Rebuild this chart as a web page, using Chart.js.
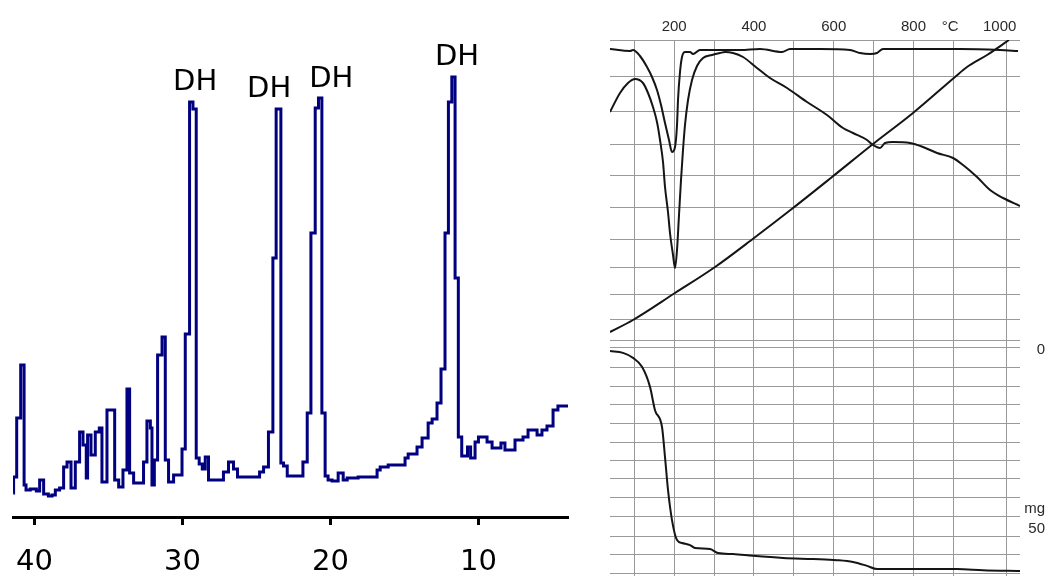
<!DOCTYPE html>
<html>
<head>
<meta charset="utf-8">
<title>XRD pattern and thermal analysis</title>
<script src="https://cdn.jsdelivr.net/npm/chart.js@4.4.1/dist/chart.umd.min.js"></script>
<style>
  html, body { margin: 0; padding: 0; background: #fff; overflow: hidden; }
  #xrdBox { position: absolute; left: 0; top: 0; width: 580px; height: 576px; }
  #tgaBox { position: absolute; left: 600px; top: 0; width: 450px; height: 576px; }
</style>
</head>
<body>
<div id="xrdBox"><canvas id="xrdChart"></canvas></div>
<div id="tgaBox"><canvas id="tgaChart"></canvas></div>
<script>
// XRD pattern (2 theta, degrees / intensity, a.u.), read as steps
const xrdTwoTheta = [41.44, 41.41, 41.20, 40.93, 40.70, 40.57, 40.28, 39.87, 39.65, 39.38,
  39.06, 38.81, 38.59, 38.30, 38.03, 37.80, 37.53, 37.24, 36.95, 36.72,
  36.50, 36.41, 36.18, 35.89, 35.62, 35.44, 35.10, 34.58, 34.31, 34.02,
  33.75, 33.57, 33.30, 32.63, 32.40, 32.17, 32.06, 31.90, 31.68, 31.38,
  31.16, 30.94, 30.60, 30.03, 29.81, 29.52, 29.29, 29.07, 28.87, 28.66,
  28.46, 28.24, 27.23, 26.89, 26.55, 26.28, 24.79, 24.52, 24.19, 23.89,
  23.67, 23.35, 23.17, 22.92, 21.86, 21.57, 21.32, 21.03, 20.81, 20.58,
  20.36, 20.16, 19.89, 19.48, 19.14, 18.87, 18.13, 16.85, 16.64, 16.10,
  14.96, 14.75, 14.15, 13.81, 13.40, 13.13, 12.80, 12.53, 12.26, 12.03,
  11.80, 11.58, 11.36, 11.13, 10.74, 10.53, 10.23, 10.00, 9.42, 9.08,
  8.48, 8.21, 7.53, 6.99, 6.65, 6.04, 5.71, 5.37, 4.96, 4.63, 3.95];
const xrdIntensity = [24, 40, 99, 152, 32, 27, 28, 26, 37, 23,
  21, 22, 27, 29, 50, 55, 29, 55, 85, 72,
  39, 82, 62, 85, 89, 35, 107, 37, 30, 47,
  128, 44, 34, 55, 96, 89, 32, 57, 162, 180,
  57, 35, 42, 68, 183, 415, 408, 59, 53, 48,
  60, 37, 45, 55, 48, 40, 45, 50, 85, 259,
  408, 54, 51, 41, 55, 104, 284, 409, 419, 104,
  41, 37, 36, 44, 37, 39, 40, 47, 50, 52,
  59, 63, 70, 79, 94, 98, 114, 148, 284, 415,
  440, 239, 80, 61, 70, 59, 75, 80, 75, 69,
  74, 67, 77, 80, 87, 82, 87, 91, 107, 111, 111];
const xrdTicks = [10, 20, 30, 40];

// "DH" peak labels
const dhTwoTheta = [29.14, 24.14, 19.95, 11.45];
const dhIntensity = [435, 428, 438, 460];

// thermal analysis: temperature (°C) and chart deflection
const tempGridT = [100, 200, 300, 400, 500, 600, 700, 800, 900, 1032];
const tempLabelT = [200, 400, 600, 800, 892, 1016];
const tempLabelText = ["200", "400", "600", "800", "°C", "1000"];
const topGridV = [303, 268, 233, 200, 168, 136, 105, 77, 50, 25, 4];
const tgGridMg = [-0.6, 5.0, 10.1, 15.1, 20.4, 25.7, 31.0, 36.0, 41.3, 46.6, 52.0, 57.0, 62.3];
const tgLabelMg = [0, 44.3, 50];
const tgLabelText = ["0", "mg", "50"];

const dtgT = [39.2, 89.4, 96.9, 114.4, 132.0, 144.5, 157.0, 167.1, 177.1, 187.1,
  194.6, 202.2, 207.2, 209.7, 214.7, 219.7, 227.2, 239.8, 247.3, 264.8,
  315.0, 365.1, 415.3, 470.4, 490.5, 565.7, 640.9, 666.0, 691.0, 708.6,
  723.6, 816.4, 916.7, 1016.9, 1062.1];
const dtgV = [295, 293, 294, 288, 277, 267, 254, 239, 221, 204,
  192, 197, 219, 244, 272, 287, 292, 292, 290, 294,
  294, 294, 295, 292, 295, 295, 294, 291, 290, 291,
  295, 295, 295, 294, 293];

const dtaT = [39.2, 64.3, 84.3, 101.9, 121.9, 134.5, 147.0, 157.0, 164.6, 172.1,
  177.1, 184.6, 189.6, 197.2, 202.2, 207.2, 212.2, 217.2, 222.2, 227.2,
  234.8, 244.8, 257.3, 272.4, 294.9, 315.0, 327.5, 347.6, 372.6, 407.7,
  440.3, 483.0, 533.1, 583.2, 623.3, 648.4, 683.5, 698.6, 716.1, 728.6,
  748.7, 791.3, 823.9, 859.0, 899.1, 924.2, 959.3, 991.9, 1024.5, 1067];
const dtaV = [232, 251, 261, 265, 261, 251, 237, 222, 204, 182,
  157, 132, 111, 89, 76, 94, 129, 164, 194, 219,
  244, 264, 278, 286, 289, 291, 292, 291, 287, 276,
  266, 256, 242, 229, 216, 211, 204, 199, 196, 201,
  202, 201, 197, 191, 186, 179, 167, 154, 146, 138];

const tCurveT = [39.2, 96.9, 202.2, 302.5, 400.2, 498.0, 595.8, 698.6, 798.8, 904.1, 934.2, 984.4, 1039.5];
const tCurveV = [12, 24, 51, 77, 106, 136, 167, 200, 231, 267, 277, 289, 304];

const tgT = [39.2, 71.8, 96.9, 119.4, 139.5, 152.0, 169.6, 177.1, 184.6, 194.6,
  207.2, 219.7, 239.8, 252.3, 289.9, 310.0, 347.6, 397.7, 472.9, 548.1,
  608.3, 648.4, 683.5, 708.6, 766.2, 849.0, 909.1, 974.3, 1067];
const tgMg = [0.3, 0.8, 2.2, 4.7, 10.3, 16.8, 21.5, 29.9, 39.1, 47.5,
  53.1, 53.9, 54.5, 55.3, 55.6, 56.7, 57.0, 57.5, 58.1, 58.4,
  58.7, 59.2, 60.3, 61.2, 61.2, 61.2, 61.2, 61.5, 61.7];

function toPoints(xs, ys) {
    return xs.map((x, i) => ({x: x, y: ys[i]}));
}

function labelFor(values, texts, v) {
    const i = values.findIndex(t => Math.abs(t - v) < 0.001);
    return i < 0 ? "" : texts[i];
}

// keep the axes from pushing the plot area in for their edge labels
function noPadding(axis) {
    axis.paddingTop = 0;
    axis.paddingBottom = 0;
    axis.paddingLeft = 0;
    axis.paddingRight = 0;
}

Chart.defaults.font.family = "'Liberation Sans', Arial, sans-serif";
Chart.defaults.animation = false;

// labels above the gypsum peaks
const dhPlugin = {
    id: "dhLabels",
    afterDatasetsDraw(chart) {
        const ctx = chart.ctx;
        ctx.save();
        ctx.font = "29px 'DejaVu Sans'";
        ctx.fillStyle = "#000";
        ctx.textAlign = "center";
        ctx.textBaseline = "middle";
        dhTwoTheta.forEach((t, i) => {
            ctx.fillText("DH", chart.scales.x.getPixelForValue(t), chart.scales.y.getPixelForValue(dhIntensity[i]));
        });
        ctx.restore();
    }
};

new Chart(document.getElementById("xrdChart"), {
    type: "line",
    data: {
        datasets: [{
            data: toPoints(xrdTwoTheta, xrdIntensity),
            borderColor: "#000080",
            borderWidth: 3,
            pointRadius: 0,
            stepped: true,
            fill: false
        }]
    },
    options: {
        responsive: true,
        maintainAspectRatio: false,
        events: [],
        layout: {padding: {left: 13, right: 12, top: 0, bottom: 0}},
        plugins: {legend: {display: false}, tooltip: {enabled: false}},
        scales: {
            x: {
                type: "linear",
                reverse: true,
                min: 3.95,
                max: 41.45,
                afterBuildTicks: axis => { axis.ticks = xrdTicks.map(v => ({value: v})); },
                afterFit: axis => { axis.height = 59; noPadding(axis); },
                border: {display: true, color: "#000", width: 3},
                grid: {display: true, drawOnChartArea: false, drawTicks: true, tickLength: 8, tickWidth: 3, tickColor: "#000"},
                ticks: {
                    font: {family: "'DejaVu Sans'", size: 29},
                    color: "#000",
                    padding: 20,
                    autoSkip: false,
                    maxRotation: 0
                }
            },
            y: {display: false, min: 0, max: 517}
        }
    },
    plugins: [dhPlugin]
});

const paperGrid = "#9a9a9a";
const curveStyle = {borderColor: "#151515", borderWidth: 2, pointRadius: 0, fill: false, cubicInterpolationMode: "monotone"};

new Chart(document.getElementById("tgaChart"), {
    type: "line",
    data: {
        datasets: [
            Object.assign({label: "DTG", data: toPoints(dtgT, dtgV), yAxisID: "yTop"}, curveStyle),
            Object.assign({label: "DTA", data: toPoints(dtaT, dtaV), yAxisID: "yTop"}, curveStyle),
            Object.assign({label: "T", data: toPoints(tCurveT, tCurveV), yAxisID: "yTop"}, curveStyle),
            Object.assign({label: "TG", data: toPoints(tgT, tgMg), yAxisID: "yTG"}, curveStyle)
        ]
    },
    options: {
        responsive: true,
        maintainAspectRatio: false,
        events: [],
        layout: {padding: {left: 10, right: 5, top: 0, bottom: 0}},
        plugins: {legend: {display: false}, tooltip: {enabled: false}},
        scales: {
            x: {
                type: "linear",
                position: "top",
                min: 39.2,
                max: 1067,
                afterBuildTicks: axis => {
                    axis.ticks = tempGridT.concat(tempLabelT.filter(v => !tempGridT.includes(v))).map(v => ({value: v}));
                },
                afterFit: axis => { axis.height = 40; noPadding(axis); },
                border: {display: false},
                grid: {
                    drawTicks: false,
                    lineWidth: 1,
                    color: c => tempGridT.includes(c.tick.value) ? paperGrid : "rgba(0,0,0,0)"
                },
                ticks: {
                    callback: v => labelFor(tempLabelT, tempLabelText, v),
                    font: {size: 15},
                    color: "#2a2a2a",
                    padding: 4,
                    autoSkip: false,
                    maxRotation: 0
                }
            },
            yTop: {
                type: "linear",
                position: "right",
                stack: "thermal",
                stackWeight: 304,
                min: 0,
                max: 304,
                afterBuildTicks: axis => { axis.ticks = topGridV.map(v => ({value: v})); },
                afterFit: axis => { axis.width = 25; noPadding(axis); },
                border: {display: false},
                grid: {drawTicks: false, color: paperGrid, lineWidth: 1},
                ticks: {display: false}
            },
            yTG: {
                type: "linear",
                position: "right",
                stack: "thermal",
                stackWeight: 232,
                reverse: true,
                min: -1.68,
                max: 63.13,
                afterBuildTicks: axis => {
                    axis.ticks = tgGridMg.concat(tgLabelMg).map(v => ({value: v}));
                },
                afterFit: axis => { axis.width = 25; noPadding(axis); },
                border: {display: false},
                grid: {
                    drawTicks: false,
                    lineWidth: 1,
                    color: c => tgGridMg.includes(c.tick.value) ? paperGrid : "rgba(0,0,0,0)"
                },
                ticks: {
                    callback: v => labelFor(tgLabelMg, tgLabelText, v),
                    font: {size: 15},
                    color: "#2a2a2a",
                    padding: 2,
                    crossAlign: "far",
                    autoSkip: false
                }
            }
        }
    }
});
</script>
</body>
</html>
